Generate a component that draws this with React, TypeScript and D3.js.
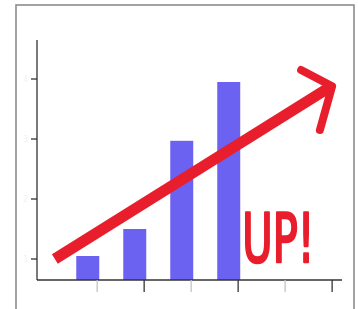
import React, { useEffect, useRef } from "react";
import * as d3 from "d3";

// bars: x position (tick index) and height
const categories = [1, 2, 3, 4];
const values = [1.05, 1.5, 2.97, 3.95];

const yTicks = [1, 2, 3, 4];
const yTickLabels = ["1", "2", "3", "4"];
const xTicks = [1, 2, 3, 4, 5, 6];

// hand drawn trend arrow, in data units
const arrowShaft = [
  [0.1, 1.0],
  [5.96, 3.87],
];
const arrowBarbs = [
  [
    [5.34, 4.15],
    [6.0, 3.88],
    [5.74, 3.15],
  ],
];
const label = "UP!";
const labelPos = [4.09, 0.95];

const App = () => {
  const ref = useRef<SVGSVGElement | null>(null);

  useEffect(() => {
    const width = 358;
    const height = 309;
    const red = "#e81e2c";

    const svg = d3.select(ref.current);
    svg.selectAll("*").remove();

    svg.append("rect").attr("width", width).attr("height", height).attr("fill", "#fff");

    // picture frame
    svg
      .append("rect")
      .attr("x", 16)
      .attr("y", 5)
      .attr("width", 338)
      .attr("height", 330)
      .attr("fill", "none")
      .attr("stroke", "#8c8c8c")
      .attr("stroke-width", 1.6);

    const x = d3.scaleLinear().domain([-0.28, 6.21]).range([37, 342]);
    const y = d3.scaleLinear().domain([0.65, 4.65]).range([280, 40]);

    // bars
    svg
      .append("g")
      .selectAll("rect")
      .data(categories)
      .join("rect")
      .attr("x", (d) => x(d - 0.2) - 11.5)
      .attr("width", 23)
      .attr("y", (d, i) => y(values[i]))
      .attr("height", (d, i) => y(0.65) - y(values[i]))
      .attr("fill", "#6b62f2");

    // y axis
    const gy = svg.append("g").attr("transform", `translate(${x(-0.28)},0)`);
    gy.append("line")
      .attr("y1", y(0.65))
      .attr("y2", y(4.65))
      .attr("stroke", "#333")
      .attr("stroke-width", 1.3);
    const yt = gy
      .selectAll("g.tick")
      .data(yTicks)
      .join("g")
      .attr("class", "tick")
      .attr("transform", (d) => `translate(0,${y(d)})`);
    yt.append("line").attr("x1", -6).attr("x2", 0).attr("stroke", "#333").attr("stroke-width", 1.3);
    yt.append("text")
      .attr("x", -9)
      .attr("dy", "0.35em")
      .attr("text-anchor", "end")
      .attr("font-family", "DejaVu Sans")
      .attr("font-size", 8)
      .attr("fill", "#f2f2f2")
      .text((d, i) => yTickLabels[i]);

    // x axis
    const gx = svg.append("g").attr("transform", `translate(0,${y(0.65)})`);
    gx.append("line")
      .attr("x1", x(-0.28))
      .attr("x2", x(6.21))
      .attr("stroke", "#333")
      .attr("stroke-width", 1.3);
    gx.selectAll("line.tick")
      .data(xTicks)
      .join("line")
      .attr("class", "tick")
      .attr("x1", (d) => x(d))
      .attr("x2", (d) => x(d))
      .attr("y1", 0)
      .attr("y2", 12)
      .attr("stroke", (d) => (d % 2 ? "#c4c4c4" : "#333"))
      .attr("stroke-width", 1.3);

    // arrow
    const line = d3
      .line()
      .x((d) => x(d[0]))
      .y((d) => y(d[1]));
    svg
      .append("path")
      .attr("d", line(arrowShaft as [number, number][]))
      .attr("stroke", red)
      .attr("stroke-width", 11)
      .attr("fill", "none");
    svg
      .append("g")
      .selectAll("path")
      .data(arrowBarbs)
      .join("path")
      .attr("d", (d) => line(d as [number, number][]))
      .attr("stroke", red)
      .attr("stroke-width", 8)
      .attr("stroke-linejoin", "round")
      .attr("stroke-linecap", "round")
      .attr("fill", "none");

    svg
      .append("text")
      .attr("x", x(labelPos[0]))
      .attr("y", y(labelPos[1]))
      .attr("font-family", "DejaVu Sans Condensed, DejaVu Sans")
      .attr("font-size", 67)
      .attr("textLength", 72)
      .attr("lengthAdjust", "spacingAndGlyphs")
      .attr("fill", red)
      .attr("stroke", red)
      .attr("stroke-width", 2.5)
      .attr("stroke-linejoin", "round")
      .text(label);
  }, []);

  return (
    <div style={{ position: "fixed", left: 0, top: 0 }}>
      <svg ref={ref} width={358} height={309} style={{ display: "block" }}></svg>
    </div>
  );
};

export default App;
